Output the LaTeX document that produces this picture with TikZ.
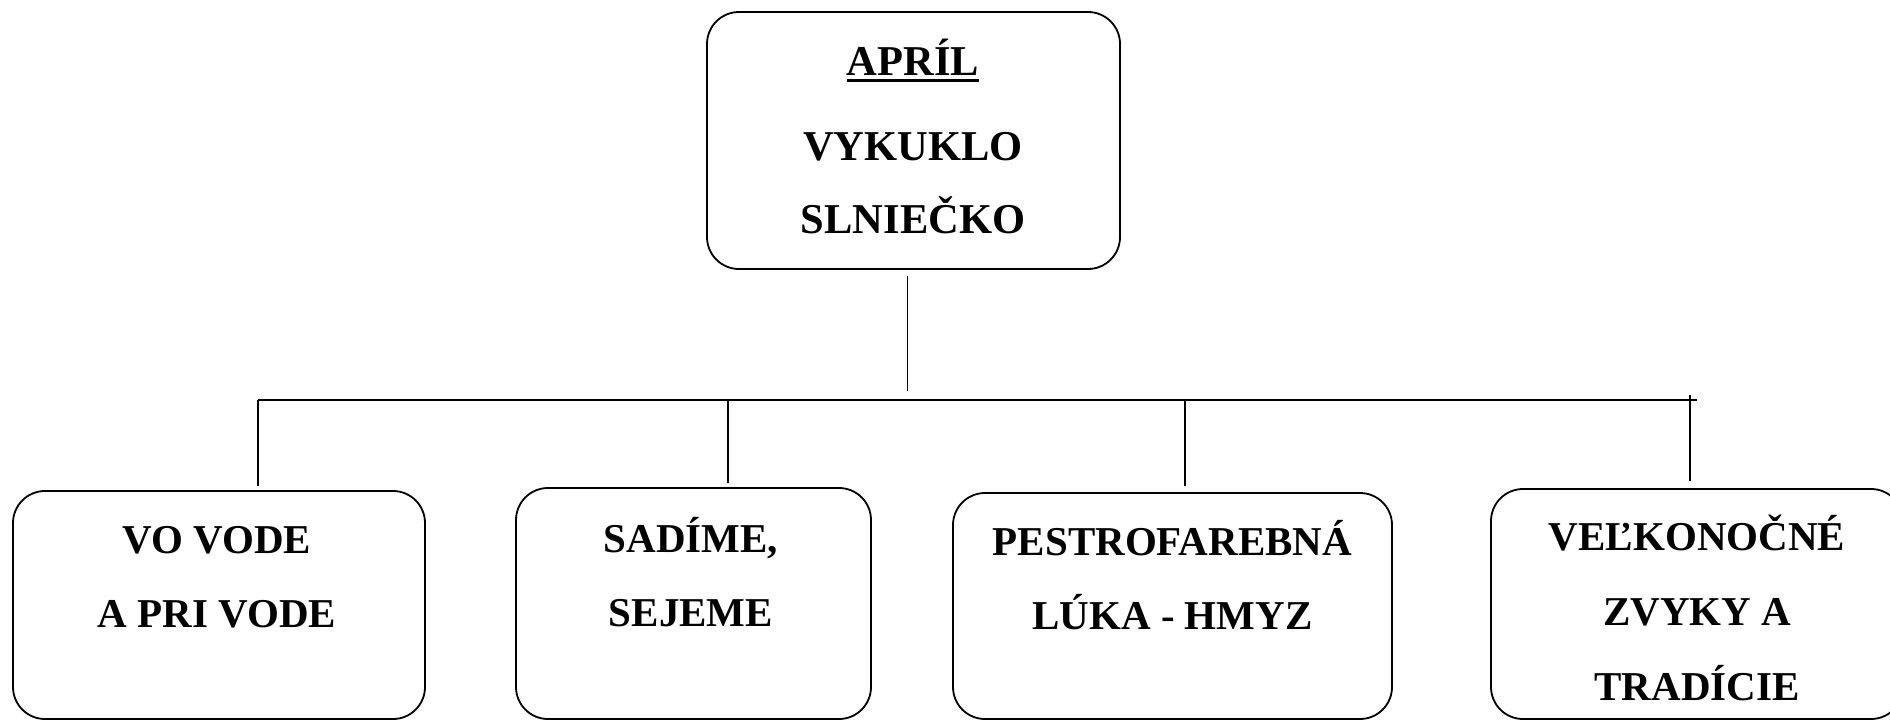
\documentclass[tikz,border=0pt]{standalone}
\usepackage{fontspec}
\setmainfont{Liberation Serif}
\usetikzlibrary{positioning}
\tikzstyle{topic} = [rectangle, rounded corners=32pt, draw=black, line width=1.8pt, inner sep=0pt]
\tikzstyle{topictext} = [align=center, inner sep=0pt, anchor=base, font=\fontsize{41}{74}\selectfont\bfseries]
\tikzstyle{line} = [line width=1.8pt]
\newcommand{\thickul}[1]{\vtop{\hbox{#1}\kern3.5pt\hrule height 3pt}}

\begin{document}
\begin{tikzpicture}[x=1pt, y=-1pt]
  \useasboundingbox (0,0) rectangle (1890,720);
  % Boxes
  \node (april) [topic, minimum width=413pt, minimum height=257pt] at (913.5,140.5) {};
  \node (voda) [topic, minimum width=412pt, minimum height=228pt] at (219,605) {};
  \node (sadime) [topic, minimum width=355pt, minimum height=231pt] at (693.5,603.5) {};
  \node (luka) [topic, minimum width=439pt, minimum height=226pt] at (1172.5,606) {};
  \node (zvyky) [topic, minimum width=412pt, minimum height=230pt] at (1697,604) {};

  % Texts (anchored at the last baseline)
  \node (april_text) [topictext, font=\fontsize{42.5}{73}\selectfont\bfseries] at (913,233) {\thickul{APRÍL}\\[12pt] VYKUKLO\\ SLNIEČKO};
  \node (voda_text) [topictext] at (217,627) {VO VODE\\ A PRI VODE};
  \node (sadime_text) [topictext] at (691,626) {SADÍME,\\ SEJEME};
  \node (luka_text) [topictext] at (1172.5,629) {PESTROFAREBNÁ\\ LÚKA - HMYZ};
  \node (zvyky_text) [topictext, font=\fontsize{41}{75}\selectfont\bfseries] at (1697,700) {VEĽKONOČNÉ\\ ZVYKY A\\ TRADÍCIE};

  % Lines
  \coordinate (bus_left) at (258,400);
  \coordinate (bus_right) at (1697,400);
  \coordinate (s1) at (258,400);
  \coordinate (s2) at (728,400);
  \coordinate (s3) at (1185,400);
  \coordinate (s4) at (1690,395);
  \draw [line] ([xshift=-6pt, yshift=-6pt]april.south) -- ([xshift=-6pt, yshift=-121pt]april.south);
  \draw [line] (bus_left) -- (bus_right);
  \draw [line] (s1) -- ([yshift=4pt]voda.north -| s1);
  \draw [line] (s2) -- ([yshift=4pt]sadime.north -| s2);
  \draw [line] (s3) -- ([yshift=6pt]luka.north -| s3);
  \draw [line] (s4) -- ([yshift=7pt]zvyky.north -| s4);
\end{tikzpicture}
\end{document}
